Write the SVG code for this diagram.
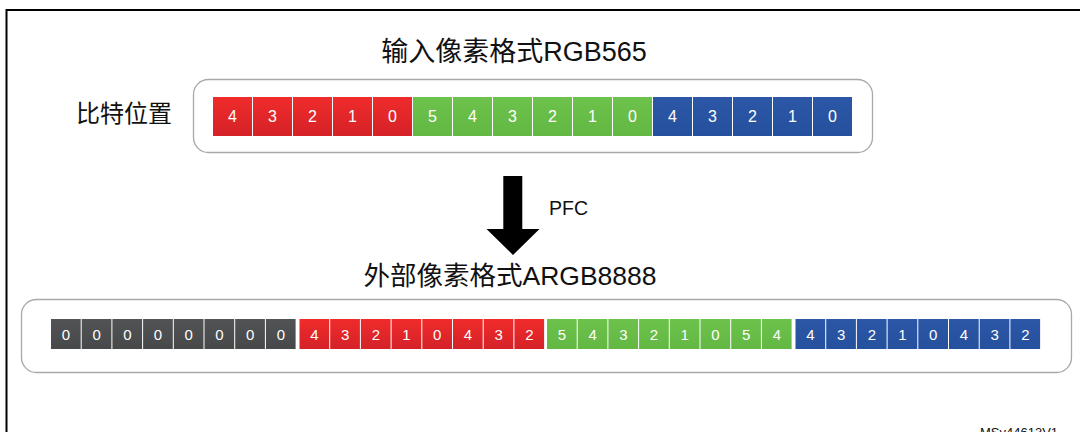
<svg xmlns="http://www.w3.org/2000/svg" width="1080" height="432" viewBox="0 0 1080 432">
<defs>
<linearGradient id="gr" x1="0" y1="0" x2="0" y2="1"><stop offset="0" stop-color="#F02B2B"/><stop offset="1" stop-color="#D42228"/></linearGradient>
<linearGradient id="gg" x1="0" y1="0" x2="0" y2="1"><stop offset="0" stop-color="#6DC24C"/><stop offset="1" stop-color="#63B843"/></linearGradient>
<linearGradient id="gb" x1="0" y1="0" x2="0" y2="1"><stop offset="0" stop-color="#2C57A6"/><stop offset="1" stop-color="#25509E"/></linearGradient>
<linearGradient id="gk" x1="0" y1="0" x2="0" y2="1"><stop offset="0" stop-color="#525355"/><stop offset="1" stop-color="#474849"/></linearGradient>
<style>
.box{fill:#fff;stroke:#A8A8A8;stroke-width:1.3}
.r{fill:url(#gr)}.g{fill:url(#gg)}.b{fill:url(#gb)}.k{fill:url(#gk)}
.n{font-family:"Liberation Sans",Arial,sans-serif;fill:#fff;text-anchor:middle}
.t1{font-size:16px}.t2{font-size:15px}
.h{font-family:"Liberation Sans","Noto Sans CJK SC",sans-serif;fill:#111}
</style>
</defs>
<rect width="1080" height="432" fill="#fff"/>
<path d="M6.5,440 V10 H1090" fill="none" stroke="#000" stroke-width="2"/>
<text class="h" x="514" y="61" font-size="27" text-anchor="middle">输入像素格式RGB565</text>
<text class="h" x="76" y="122" font-size="24">比特位置</text>
<text class="h" x="510" y="285" font-size="26.5" text-anchor="middle">外部像素格式ARGB8888</text>
<text class="h" x="549" y="215" font-size="19.5">PFC</text>
<text class="h" x="980" y="437" font-size="13">MSv44613V1</text>

<g id="input-row">
<rect class="box" x="193.5" y="79.5" width="679" height="73" rx="15"/>
<g id="in-red">
<rect class="r" x="213" y="97" width="39" height="39"/><rect class="r" x="253" y="97" width="39" height="39"/><rect class="r" x="293" y="97" width="39" height="39"/><rect class="r" x="333" y="97" width="39" height="39"/><rect class="r" x="373" y="97" width="39" height="39"/>
</g>
<g id="in-green">
<rect class="g" x="413" y="97" width="39" height="39"/><rect class="g" x="453" y="97" width="39" height="39"/><rect class="g" x="493" y="97" width="39" height="39"/><rect class="g" x="533" y="97" width="39" height="39"/><rect class="g" x="573" y="97" width="39" height="39"/><rect class="g" x="613" y="97" width="39" height="39"/>
</g>
<g id="in-blue">
<rect class="b" x="653" y="97" width="39" height="39"/><rect class="b" x="693" y="97" width="39" height="39"/><rect class="b" x="733" y="97" width="39" height="39"/><rect class="b" x="773" y="97" width="39" height="39"/><rect class="b" x="813" y="97" width="39" height="39"/>
</g>
<g class="n t1">
<text x="232.5" y="122">4</text><text x="272.5" y="122">3</text><text x="312.5" y="122">2</text><text x="352.5" y="122">1</text><text x="392.5" y="122">0</text>
<text x="432.5" y="122">5</text><text x="472.5" y="122">4</text><text x="512.5" y="122">3</text><text x="552.5" y="122">2</text><text x="592.5" y="122">1</text><text x="632.5" y="122">0</text>
<text x="672.5" y="122">4</text><text x="712.5" y="122">3</text><text x="752.5" y="122">2</text><text x="792.5" y="122">1</text><text x="832.5" y="122">0</text>
</g>
</g>

<g id="connectors">
<polygon points="503.3,176 522.3,176 522.3,229 539.5,229 513,255 486.5,229 503.3,229" fill="#000"/>
</g>

<g id="output-row">
<rect class="box" x="21.5" y="299.5" width="1050" height="73" rx="15"/>
<g id="out-alpha">
<rect class="k" x="51" y="319" width="29.7" height="30"/><rect class="k" x="81.7" y="319" width="29.7" height="30"/><rect class="k" x="112.4" y="319" width="29.7" height="30"/><rect class="k" x="143.1" y="319" width="29.7" height="30"/><rect class="k" x="173.8" y="319" width="29.7" height="30"/><rect class="k" x="204.5" y="319" width="29.7" height="30"/><rect class="k" x="235.2" y="319" width="29.7" height="30"/><rect class="k" x="265.9" y="319" width="29.7" height="30"/>
</g>
<g id="out-red">
<rect class="r" x="299.5" y="319" width="29.7" height="30"/><rect class="r" x="330.2" y="319" width="29.7" height="30"/><rect class="r" x="360.9" y="319" width="29.7" height="30"/><rect class="r" x="391.6" y="319" width="29.7" height="30"/><rect class="r" x="422.3" y="319" width="29.7" height="30"/><rect class="r" x="453" y="319" width="29.7" height="30"/><rect class="r" x="483.7" y="319" width="29.7" height="30"/><rect class="r" x="514.4" y="319" width="29.7" height="30"/>
</g>
<g id="out-green">
<rect class="g" x="547" y="319" width="29.7" height="30"/><rect class="g" x="577.7" y="319" width="29.7" height="30"/><rect class="g" x="608.4" y="319" width="29.7" height="30"/><rect class="g" x="639.1" y="319" width="29.7" height="30"/><rect class="g" x="669.8" y="319" width="29.7" height="30"/><rect class="g" x="700.5" y="319" width="29.7" height="30"/><rect class="g" x="731.2" y="319" width="29.7" height="30"/><rect class="g" x="761.9" y="319" width="29.7" height="30"/>
</g>
<g id="out-blue">
<rect class="b" x="795.5" y="319" width="29.7" height="30"/><rect class="b" x="826.2" y="319" width="29.7" height="30"/><rect class="b" x="856.9" y="319" width="29.7" height="30"/><rect class="b" x="887.6" y="319" width="29.7" height="30"/><rect class="b" x="918.3" y="319" width="29.7" height="30"/><rect class="b" x="949" y="319" width="29.7" height="30"/><rect class="b" x="979.7" y="319" width="29.7" height="30"/><rect class="b" x="1010.4" y="319" width="29.7" height="30"/>
</g>
<g class="n t2">
<text x="65.9" y="339.5">0</text><text x="96.6" y="339.5">0</text><text x="127.3" y="339.5">0</text><text x="158" y="339.5">0</text><text x="188.7" y="339.5">0</text><text x="219.4" y="339.5">0</text><text x="250.1" y="339.5">0</text><text x="280.8" y="339.5">0</text>
<text x="314.4" y="339.5">4</text><text x="345.1" y="339.5">3</text><text x="375.8" y="339.5">2</text><text x="406.5" y="339.5">1</text><text x="437.2" y="339.5">0</text><text x="467.9" y="339.5">4</text><text x="498.6" y="339.5">3</text><text x="529.3" y="339.5">2</text>
<text x="561.9" y="339.5">5</text><text x="592.6" y="339.5">4</text><text x="623.3" y="339.5">3</text><text x="654" y="339.5">2</text><text x="684.7" y="339.5">1</text><text x="715.4" y="339.5">0</text><text x="746.1" y="339.5">5</text><text x="776.8" y="339.5">4</text>
<text x="810.4" y="339.5">4</text><text x="841.1" y="339.5">3</text><text x="871.8" y="339.5">2</text><text x="902.5" y="339.5">1</text><text x="933.2" y="339.5">0</text><text x="963.9" y="339.5">4</text><text x="994.6" y="339.5">3</text><text x="1025.3" y="339.5">2</text>
</g>
</g>
</svg>
